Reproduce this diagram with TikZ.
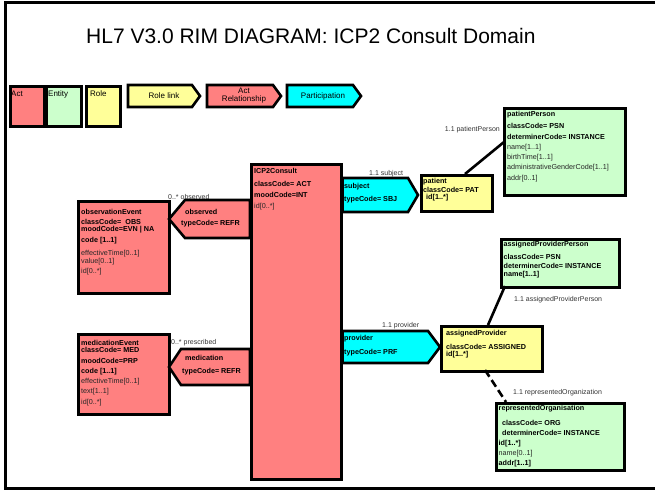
\documentclass[tikz,border=0pt]{standalone}
\usepackage{fontspec}
\setmainfont{Liberation Sans}
\usetikzlibrary{shadows,calc}
\definecolor{actred}{RGB}{255,128,128}
\definecolor{entgreen}{RGB}{204,255,204}
\definecolor{roleyel}{RGB}{255,255,153}
\definecolor{partcyan}{RGB}{0,255,255}
\tikzset{
  box/.style={draw=black, line width=2.6pt, anchor=north west, inner sep=0pt,
    drop shadow={shadow xshift=1.5pt, shadow yshift=-1.5pt, fill=black!45, opacity=1}},
  poly/.style={draw=black, line width=2.6pt, line join=miter},
  t/.style={anchor=west, inner sep=0pt, font=\fontsize{7.2}{8}\selectfont, text=black!85},
  tb/.style={t, font=\fontsize{7.2}{8}\selectfont\bfseries, text=black},
  lbl/.style={anchor=west, inner sep=0pt, font=\fontsize{7}{8}\selectfont, text=black!80},
  leg/.style={inner sep=0pt, font=\fontsize{8}{9}\selectfont, align=center},
  conn/.style={line width=2.6pt, black},
}
\begin{document}
\begin{tikzpicture}[x=1pt,y=-1pt]
\useasboundingbox (0,0) rectangle (655,491);
% frame
\draw[line width=3pt] (655,2.5) -- (5.5,2.5) -- (5.5,488) -- (655,488);
% title
\node[anchor=west, inner sep=0pt, font=\fontsize{21}{24}\selectfont] (title) at (86,36) {HL7 V3.0 RIM DIAGRAM: ICP2 Consult Domain};

% legend
\node[box, fill=actred, minimum width=34, minimum height=40] (lact) at (9,85) {};
\node[box, fill=entgreen, minimum width=35, minimum height=40] (lent) at (45,85) {};
\node[box, fill=roleyel, minimum width=34, minimum height=40] (lrole) at (85,85) {};
\node[leg, anchor=west] (lacttx) at (11,94) {Act};
\node[leg, anchor=west] (lenttx) at (48,94) {Entity};
\node[leg, anchor=west] (lroletx) at (90,94) {Role};
\draw[poly, fill=roleyel] (128,85) -- (192,85) -- (200,96) -- (192,107) -- (128,107) -- cycle;
\draw[poly, fill=actred] (207,85) -- (273,85) -- (281,96) -- (273,107) -- (207,107) -- cycle;
\draw[poly, fill=partcyan] (287,85) -- (353,85) -- (361,96) -- (353,107) -- (287,107) -- cycle;
\node[leg] (lrl) at (164,96) {Role link};
\node[leg, font=\fontsize{8}{8}\selectfont] (lar) at (244,95.5) {Act\\Relationship};
\node[leg] (lpt) at (323,96) {Participation};

% main boxes
\node[box, fill=actred, minimum width=90, minimum height=315] (icp) at (250,163) {};
\node[box, fill=actred, minimum width=91, minimum height=92] (obs) at (77,200) {};
\node[box, fill=actred, minimum width=91, minimum height=80] (med) at (77,333) {};
\node[box, fill=roleyel, minimum width=71, minimum height=36] (pat) at (420,174) {};
\node[box, fill=entgreen, minimum width=121, minimum height=87] (pp) at (503,107) {};
\node[box, fill=roleyel, minimum width=101, minimum height=45] (ap) at (440,325) {};
\node[box, fill=entgreen, minimum width=118, minimum height=48] (app) at (500,238) {};
\node[box, fill=entgreen, minimum width=128, minimum height=67] (ro) at (495,402) {};

% participations and act relationships
\draw[poly, fill=partcyan] (icp.east |- 0,178) -- (408,178) -- (418,195) -- (408,212) -- (icp.east |- 0,212) -- cycle;
\draw[poly, fill=partcyan] (icp.east |- 0,331) -- (428,331) -- (440,347) -- (428,363) -- (icp.east |- 0,363) -- cycle;
\draw[poly, fill=actred] (icp.west |- 0,200) -- (185,200) -- (169,219) -- (185,238) -- (icp.west |- 0,238) -- cycle;
\draw[poly, fill=actred] (icp.west |- 0,349) -- (181,349) -- (169,367) -- (181,385) -- (icp.west |- 0,385) -- cycle;

% connectors
\coordinate (patTop) at (465,174);
\coordinate (ppLeft) at (504,142);
\draw[conn] (patTop) -- (ppLeft);
\coordinate (apTop) at (488,325);
\coordinate (appBot) at (505,286);
\draw[conn] (apTop) -- (appBot);
\coordinate (apBot) at (485,370);
\coordinate (roTop) at (506,402);
\draw[conn, dash pattern=on 8pt off 4pt] (apBot) -- (roTop);

% ICP2Consult
\node[tb] (icp1) at (254,171) {ICP2Consult};
\node[tb] (icp2) at (254,184) {classCode= ACT};
\node[tb] (icp3) at (254,195) {moodCode=INT};
\node[t] (icp4) at (254,207) {id[0..*]};
% subject
\node[tb] (sb1) at (344,187) {subject};
\node[tb] (sb2) at (344,200) {typeCode= SBJ};
% patient
\node[tb] (pa1) at (423,182) {patient};
\node[tb] (pa2) at (423,190) {classCode= PAT};
\node[tb] (pa3) at (426,198) {id[1..*]};
% patientPerson
\node[tb] (pp1) at (507,115) {patientPerson};
\node[tb] (pp2) at (507,126) {classCode= PSN};
\node[tb] (pp3) at (507,137) {determinerCode= INSTANCE};
\node[t] (pp4) at (507,148) {name[1..1]};
\node[t] (pp5) at (507,158) {birthTime[1..1]};
\node[t] (pp6) at (507,168) {administrativeGenderCode[1..1]};
\node[t] (pp7) at (507,179) {addr[0..1]};
% observationEvent
\node[tb] (ob1) at (81,212) {observationEvent};
\node[tb] (ob2) at (81,222) {classCode=\ \ OBS};
\node[tb] (ob3) at (81,230) {moodCode=EVN | NA};
\node[tb] (ob4) at (81,241) {code [1..1]};
\node[t] (ob5) at (81,254) {effectiveTime[0..1]};
\node[t] (ob6) at (81,262) {value[0..1]};
\node[t] (ob7) at (81,272) {id[0..*]};
% observed
\node[tb] (or1) at (185,212) {observed};
\node[tb] (or2) at (181,224) {typeCode= REFR};
% medicationEvent
\node[tb] (me1) at (81,343) {medicationEvent};
\node[tb] (me2) at (81,350) {classCode= MED};
\node[tb] (me3) at (81,361) {moodCode=PRP};
\node[tb] (me4) at (81,372) {code [1..1]};
\node[t] (me5) at (81,382) {effectiveTime[0..1]};
\node[t] (me6) at (81,392) {text[1..1]};
\node[t] (me7) at (81,403) {id[0..*]};
% medication
\node[tb] (mr1) at (185,358) {medication};
\node[tb] (mr2) at (182,372) {typeCode= REFR};
% provider
\node[tb] (pr1) at (344,339) {provider};
\node[tb] (pr2) at (344,353) {typeCode= PRF};
% assignedProvider
\node[tb] (ap1) at (446,334) {assignedProvider};
\node[tb] (ap2) at (446,347) {classCode= ASSIGNED};
\node[tb] (ap3) at (446,355) {id[1..*]};
% assignedProviderPerson
\node[tb] (ape1) at (503.5,245) {assignedProviderPerson};
\node[tb] (ape2) at (503.5,257) {classCode= PSN};
\node[tb] (ape3) at (503.5,266) {determinerCode= INSTANCE};
\node[tb] (ape4) at (503.5,275) {name[1..1]};
% representedOrganisation
\node[tb] (ro1) at (498.5,409) {representedOrganisation};
\node[tb] (ro2) at (502,423) {classCode= ORG};
\node[tb] (ro3) at (502,433) {determinerCode= INSTANCE};
\node[tb] (ro4) at (498.5,444) {id[1..*]};
\node[t] (ro5) at (498.5,454) {name[0..1]};
\node[tb] (ro6) at (498.5,464) {addr[1..1]};

% connector labels
\node[lbl, anchor=east] (l1) at (500,130) {1.1 patientPerson};
\node[lbl] (l2) at (369,174) {1.1 subject};
\node[lbl] (l3) at (168,197) {0..* observed};
\node[lbl] (l4) at (171,343) {0..* prescribed};
\node[lbl] (l5) at (382,326) {1.1 provider};
\node[lbl] (l6) at (514,300) {1.1 assignedProviderPerson};
\node[lbl] (l7) at (513,393) {1.1 representedOrganization};
\end{tikzpicture}
\end{document}
